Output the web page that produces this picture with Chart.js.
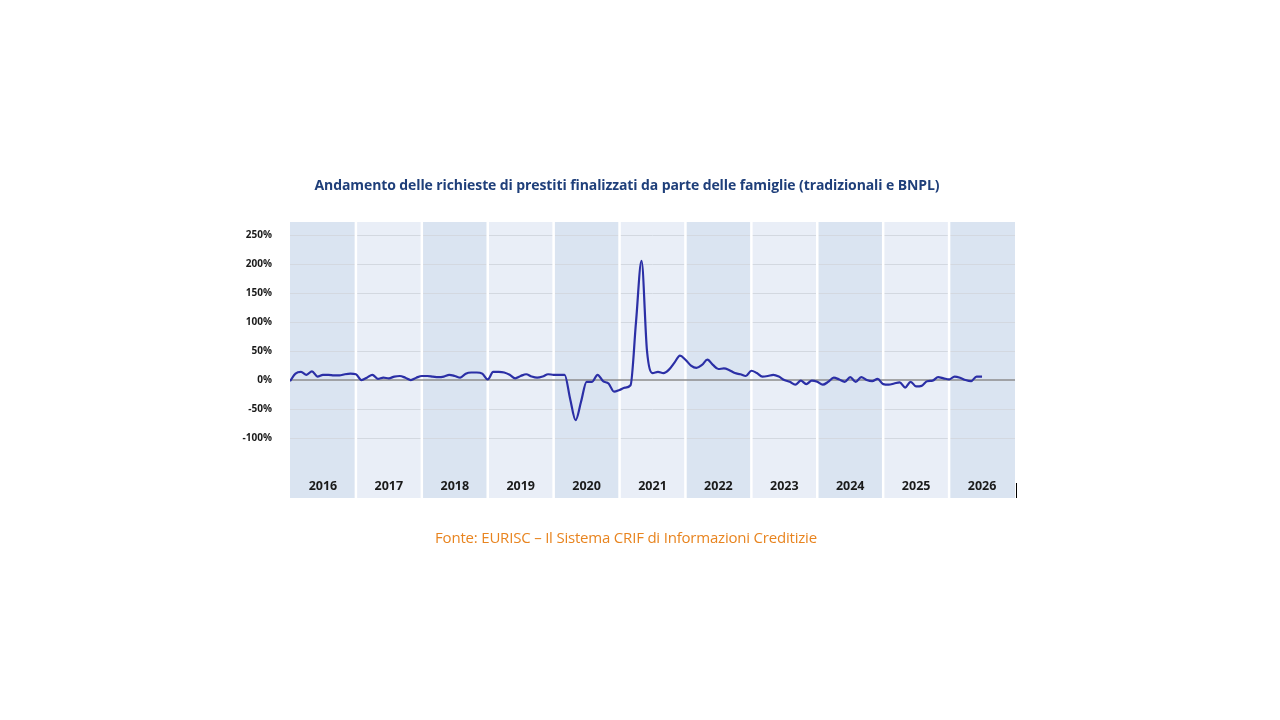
<!DOCTYPE html>
<html><head><meta charset="utf-8">
<script src="https://cdn.jsdelivr.net/npm/chart.js@4"></script>
<style>
  body{margin:0;background:#fff;width:1280px;height:720px;overflow:hidden;font-family:"Open Sans","Noto Sans",sans-serif}
  #wrap{position:absolute;left:0;top:0;width:1280px;height:720px}
  .title{position:absolute;top:175px;left:0;width:1254px;text-align:center;font-weight:bold;font-size:14px;color:#1f3f7a;letter-spacing:-0.1px}
  .src{position:absolute;top:527px;left:0;width:1252px;text-align:center;font-size:15px;color:#e8841f;letter-spacing:-0.2px}
</style></head>
<body>
<div id="wrap"><canvas id="c" width="1280" height="720"></canvas></div>
<div class="title">Andamento delle richieste di prestiti finalizzati da parte delle famiglie (tradizionali e BNPL)</div>
<div class="src">Fonte: EURISC – Il Sistema CRIF di Informazioni Creditizie</div>
<script>
const years = ['2016','2017','2018','2019','2020','2021','2022','2023','2024','2025','2026'];
// monthly yoy change (%), Jan 2016 onward
const values = [
  -2,11,14,9,15,6,9,9,8,8,10,11,
  10,0,4,9,2,4,3,6,7,4,0,4,
  7,7,6,5,6,9,7,4,11,13,13,11,
  1,14,14,13,9,3,7,10,6,4,6,10,
  9,9,9,-32,-69,-37,-3,-3,9,-2,-6,-20,
  -17,-13,-9,100,205,50,12,14,12,18,30,42,
  35,25,21,26,35,26,19,20,17,12,10,7,
  16,12,6,7,9,6,0,-3,-8,-1,-7,-1,
  -3,-8,-3,4,1,-3,5,-3,5,0,-2,2,
  -7,-8,-6,-4,-13,-3,-11,-10,-2,-1,5,3,
  1,6,4,0,-2,6,6
];
const yTicks = [-100,-50,0,50,100,150,200,250];
const FONT = '"Open Sans", "Noto Sans", sans-serif';

const bands = {
  id:'bands',
  beforeDraw(chart){
    const {ctx, chartArea:a, scales:{x,y}} = chart;
    ctx.save();
    years.forEach((yr,i)=>{
      const l = x.getPixelForValue(i*12), r = x.getPixelForValue((i+1)*12);
      ctx.fillStyle = i%2===0 ? '#dae4f1' : '#e9eef7';
      ctx.fillRect(l, a.top, r-l, a.bottom-a.top);
    });
    ctx.strokeStyle = '#d3d8e0'; ctx.lineWidth = 1;
    yTicks.forEach(t=>{
      if (t===0) return;
      const py = Math.round(y.getPixelForValue(t))+0.5;
      ctx.beginPath(); ctx.moveTo(a.left, py); ctx.lineTo(a.right, py); ctx.stroke();
    });
    ctx.strokeStyle = '#ffffff'; ctx.lineWidth = 2.5;
    for (let i=1;i<years.length;i++){
      const px = x.getPixelForValue(i*12);
      ctx.beginPath(); ctx.moveTo(px, a.top); ctx.lineTo(px, a.bottom); ctx.stroke();
    }
    const z = y.getPixelForValue(0);
    ctx.strokeStyle = '#8c8c8c'; ctx.lineWidth = 1.5;
    ctx.beginPath(); ctx.moveTo(a.left, z); ctx.lineTo(a.right, z); ctx.stroke();
    ctx.fillStyle = '#1a1a1a'; ctx.font = 'bold 12.5px ' + FONT;
    ctx.textAlign = 'center'; ctx.textBaseline = 'middle';
    years.forEach((yr,i)=>{
      ctx.fillText(yr, x.getPixelForValue(i*12+6), 486);
    });
    ctx.strokeStyle = '#000'; ctx.lineWidth = 1;
    ctx.beginPath(); ctx.moveTo(a.right+1.5, 483); ctx.lineTo(a.right+1.5, a.bottom); ctx.stroke();
    ctx.restore();
  }
};

new Chart(document.getElementById('c'), {
  type:'line',
  data:{ datasets:[{ data: values.map((v,i)=>({x:i, y:v})), borderColor:'#2b2fa6', borderWidth:2.2,
    pointRadius:0, tension:0.4, cubicInterpolationMode:'monotone', fill:false }] },
  options:{
    responsive:false, animation:false,
    layout:{ padding:{ left:240, right:265, top:222, bottom:222 } },
    plugins:{ legend:{display:false}, tooltip:{enabled:false} },
    scales:{
      x:{ type:'linear', min:0, max:years.length*12, display:false },
      y:{ min:-203, max:272, grid:{display:false}, border:{display:false},
        afterFit(s){ s.width = 50; },
        afterBuildTicks(s){ s.ticks = yTicks.map(v=>({value:v})); },
        ticks:{ color:'#1a1a1a', padding:10, font:{ size:10, weight:'bold', family:FONT },
          callback:v=> v+'%' } }
    }
  },
  plugins:[bands]
});
</script>
</body></html>
